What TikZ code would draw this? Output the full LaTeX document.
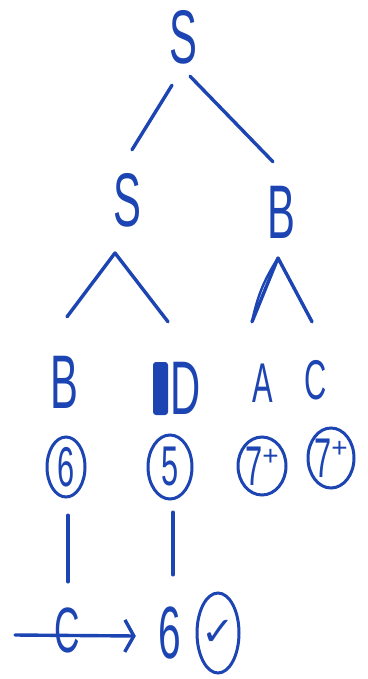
\documentclass[tikz,border=0pt]{standalone}
\usepackage{fontspec}
\usepackage{graphicx}
\setmainfont{Liberation Sans}
\newfontfamily\simbolo{DejaVu Sans}
\usetikzlibrary{arrows.meta}
\definecolor{tinta}{RGB}{28,68,178}
\newcommand{\estreita}[1]{\scalebox{0.55}[1]{#1}}

\begin{document}
\begin{tikzpicture}[x=1pt, y=-1pt,
        traco/.style={tinta, line width=3.4pt, line cap=round, line join=round},
        anel/.style={draw=tinta, line width=3pt},
        sym/.style={text=tinta, font=\fontsize{76}{76}\selectfont, inner sep=0pt,
                    minimum width=40pt, minimum height=56pt},
        symp/.style={sym, font=\fontsize{56}{56}\selectfont},
        num/.style={text=tinta, font=\fontsize{56}{56}\selectfont, inner sep=0pt,
                    minimum width=40pt, minimum height=60pt},
    ]
    \useasboundingbox[fill=white] (0,0) rectangle (367,679);
    % raiz e filhos
    \node[sym] (raiz) at (183,37)  {\estreita{S}};
    \node[sym] (sEsq) at (127,200) {\estreita{S}};
    \node[sym] (bDir) at (281,212) {\estreita{B}};
    \draw[traco] ([shift={(-11,20)}]raiz.south) -- ([shift={(5,-22)}]sEsq.north);
    \draw[traco] ([shift={(7,11)}]raiz.south) -- ([shift={(-8,-22)}]bDir.north);
    % folhas
    \node[sym]  (bFolha) at (64,382)  {\estreita{B}};
    \node[sym]  (dFolha) at (186,388) {\estreita{D}};
    \node[symp] (aFolha) at (263,383) {\estreita{A}};
    \node[symp] (cFolha) at (316,380) {\estreita{C}};
    \fill[tinta, rounded corners=3pt] ([shift={(-33,-26)}]dFolha.center)
        rectangle ([shift={(-18,27)}]dFolha.center);
    % chapeus
    \coordinate (chapeuS) at (115,253);
    \coordinate (chapeuB) at (278,258);
    \draw[traco] ([shift={(3,-37)}]bFolha.north) -- (chapeuS) -- ([shift={(-18,-38)}]dFolha.north);
    \draw[traco] ([shift={(-11,-33)}]aFolha.north) -- (chapeuB) -- ([shift={(-4,-30)}]cFolha.north);
    \draw[traco, line width=2.4pt] ([shift={(-11,-33)}]aFolha.north) to[bend left=10] (chapeuB);
    % numeros circulados
    \node[num] (n6)  at (66,467)  {\estreita{6}};
    \node[num] (n5)  at (170,467) {\estreita{5}};
    \node[num] (n7a) at (262,466) {\estreita{7}\raisebox{0.35em}{\fontsize{28}{28}\selectfont +}};
    \node[num] (n7b) at (331,458) {\estreita{7}\raisebox{0.35em}{\fontsize{28}{28}\selectfont +}};
    \draw[anel] (n6)  ellipse (19pt and 30pt);
    \draw[anel] (n5)  ellipse (22pt and 32pt);
    \draw[anel] (n7a) ellipse (24pt and 29pt);
    \draw[anel] (n7b) ellipse (23pt and 30pt);
    % linha de baixo
    \node[sym] (cFim)    at (67,630)  {\fontsize{64}{64}\selectfont\estreita{C}};
    \node[sym] (seisFim) at (170,633) {\fontsize{74}{74}\selectfont\estreita{6}};
    \node[num] (ok)      at (218,633) {\simbolo\fontsize{40}{40}\selectfont ✓};
    \draw[anel] (ok) ellipse (21pt and 40pt);
    \draw[traco] ([shift={(2,18)}]n6.south) -- ([shift={(1,-20)}]cFim.north);
    \draw[traco] ([shift={(3,15)}]n5.south) -- ([shift={(3,-30)}]seisFim.north);
    \coordinate (inicio) at (15,635);
    \draw[traco, -{Straight Barb[length=9pt, width=32pt]}] (inicio) -- ([shift={(-14,3)}]seisFim.west);
\end{tikzpicture}
\end{document}
